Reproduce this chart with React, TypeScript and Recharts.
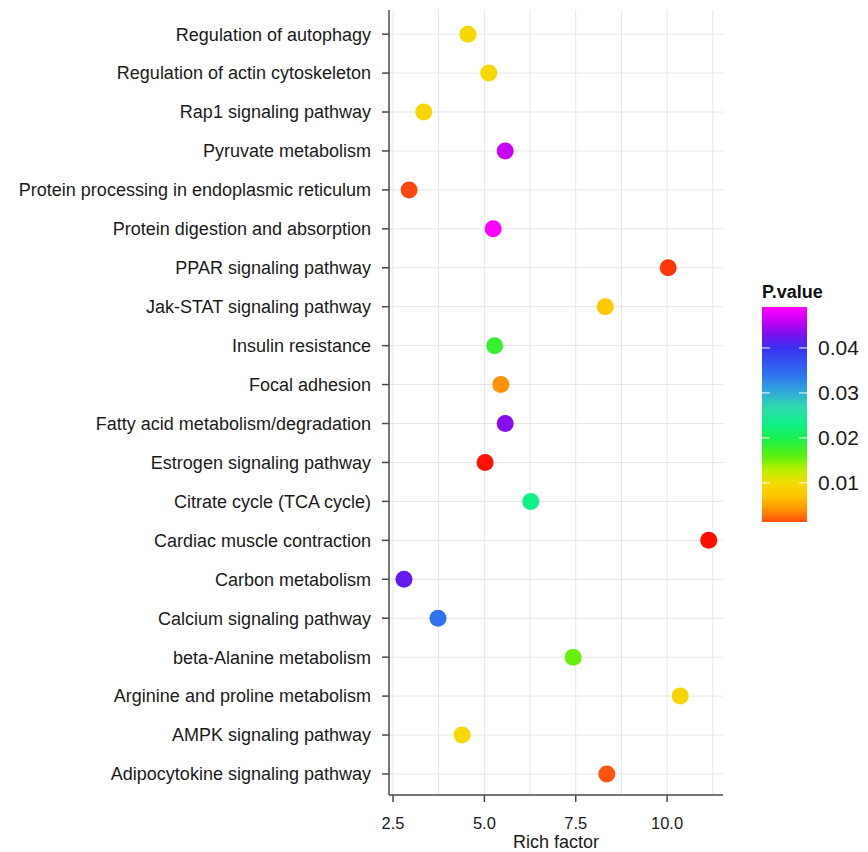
import React from "react";
import { ScatterChart, Scatter, XAxis, YAxis, CartesianGrid } from "recharts";

// Pathways listed from top to bottom as in the reference
const pathways = [
  "Regulation of autophagy",
  "Regulation of actin cytoskeleton",
  "Rap1 signaling pathway",
  "Pyruvate metabolism",
  "Protein processing in endoplasmic reticulum",
  "Protein digestion and absorption",
  "PPAR signaling pathway",
  "Jak-STAT signaling pathway",
  "Insulin resistance",
  "Focal adhesion",
  "Fatty acid metabolism/degradation",
  "Estrogen signaling pathway",
  "Citrate cycle (TCA cycle)",
  "Cardiac muscle contraction",
  "Carbon metabolism",
  "Calcium signaling pathway",
  "beta-Alanine metabolism",
  "Arginine and proline metabolism",
  "AMPK signaling pathway",
  "Adipocytokine signaling pathway",
];

const richFactor = [
  4.55, 5.12, 3.34, 5.57, 2.94, 5.24, 10.03, 8.31, 5.28, 5.45,
  5.57, 5.02, 6.27, 11.14, 2.8, 3.73, 7.43, 10.36, 4.39, 8.35,
];

const pValue = [
  0.0095, 0.0095, 0.0093, 0.046, 0.0012, 0.049, 0.0009, 0.0075, 0.018, 0.004,
  0.0435, 0.0003, 0.023, 0.0002, 0.042, 0.034, 0.0155, 0.009, 0.0095, 0.0015,
];

const xTicks = [2.5, 5.0, 7.5, 10.0];
const xGrid = [2.5, 3.75, 5.0, 6.25, 7.5, 8.75, 10.0, 11.25];
const legendTicks = [0.01, 0.02, 0.03, 0.04];
const legendMin = 0.0013;
const legendMax = 0.0491;

// colour gradient stops [p, colour]
const gradStops: [number, string][] = [
  [0.0, "#ff0000"],
  [0.0013, "#ff4e10"],
  [0.004, "#ff9200"],
  [0.007, "#ffc400"],
  [0.01, "#f2dc00"],
  [0.013, "#b8f000"],
  [0.016, "#58f010"],
  [0.02, "#18f050"],
  [0.023, "#10f088"],
  [0.027, "#30d8b0"],
  [0.03, "#30acd8"],
  [0.034, "#2f72f0"],
  [0.04, "#3a30f0"],
  [0.043, "#7a10f0"],
  [0.046, "#c800f4"],
  [0.0491, "#ff00ff"],
];

function hexToRgb(h: string) {
  const v = parseInt(h.slice(1), 16);
  return [(v >> 16) & 255, (v >> 8) & 255, v & 255];
}

function colorFor(p: number) {
  if (p <= gradStops[0][0]) return gradStops[0][1];
  for (let i = 1; i < gradStops.length; i++) {
    const [p1, c1] = gradStops[i];
    const [p0, c0] = gradStops[i - 1];
    if (p <= p1) {
      const t = (p - p0) / (p1 - p0);
      const a = hexToRgb(c0);
      const b = hexToRgb(c1);
      const m = a.map((v, k) => Math.round(v + (b[k] - v) * t));
      return `rgb(${m[0]},${m[1]},${m[2]})`;
    }
  }
  return gradStops[gradStops.length - 1][1];
}

const n = pathways.length;
const data = pathways.map((name, i) => ({
  name,
  x: richFactor[i],
  y: n - 1 - i,
  p: pValue[i],
}));

const yTicks = pathways.map((_, i) => i);

const FONT = "'Liberation Sans', Arial, Helvetica, sans-serif";
const AXIS = "#4a4a4a";

const Dot = (props: any) => {
  const { cx, cy, payload } = props;
  if (cx == null || cy == null) return null;
  return <circle cx={cx} cy={cy} r={8.5} fill={colorFor(payload.p)} />;
};

const ColorBar = () => {
  const barX = 762;
  const barW = 45;
  const barTop = 307;
  const barBottom = 522;
  const toY = (p: number) =>
    barBottom - ((p - legendMin) / (legendMax - legendMin)) * (barBottom - barTop);
  const stops = gradStops.filter((s) => s[0] >= legendMin);
  return (
    <svg
      width={868}
      height={852}
      style={{ position: "absolute", left: 0, top: 0, pointerEvents: "none" }}
    >
      <defs>
        <linearGradient id="pgrad" x1="0" y1="1" x2="0" y2="0">
          {stops.map(([p, c], i) => (
            <stop
              key={i}
              offset={`${((p - legendMin) / (legendMax - legendMin)) * 100}%`}
              stopColor={c}
            />
          ))}
        </linearGradient>
      </defs>
      <text x={barX} y={298} fontFamily={FONT} fontSize={18} fontWeight="bold" fill="#111">
        P.value
      </text>
      <rect x={barX} y={barTop} width={barW} height={barBottom - barTop} fill="url(#pgrad)" />
      {legendTicks.map((t) => (
        <g key={t}>
          <line x1={barX} x2={barX + 8} y1={toY(t)} y2={toY(t)} stroke="#ffffff" strokeWidth={1.2} opacity={0.8} />
          <line x1={barX + barW - 8} x2={barX + barW} y1={toY(t)} y2={toY(t)} stroke="#ffffff" strokeWidth={1.2} opacity={0.8} />
          <text
            x={818}
            y={toY(t)}
            dy="0.36em"
            fontFamily={FONT}
            fontSize={21}
            fill="#1a1a1a"
          >
            {t.toFixed(2)}
          </text>
        </g>
      ))}
    </svg>
  );
};

export default function App() {
  return (
    <div style={{ position: "absolute", left: 0, top: 0, width: 868, height: 852, background: "#fff" }}>
      <ScatterChart
        width={868}
        height={852}
        margin={{ top: 10, right: 145, bottom: 0, left: 9 }}
      >
        <CartesianGrid
          stroke="#e6e6e6"
          strokeWidth={1}
          verticalValues={xGrid}
          horizontalValues={yTicks}
        />
        <XAxis
          type="number"
          dataKey="x"
          domain={[2.39, 11.53]}
          allowDataOverflow
          ticks={xTicks}
          interval={0}
          tickFormatter={(v: number) => v.toFixed(1)}
          height={57}
          tickSize={7}
          tickMargin={15}
          stroke={AXIS}
          strokeWidth={1.5}
          tick={{ fill: "#1a1a1a", fontSize: 16.5, fontFamily: FONT }}
          label={{
            value: "Rich factor",
            position: "insideBottom",
            offset: 4,
            fill: "#1a1a1a",
            fontSize: 18,
            fontFamily: FONT,
          }}
        />
        <YAxis
          type="number"
          dataKey="y"
          domain={[-0.54, 19.62]}
          allowDataOverflow
          ticks={yTicks}
          interval={0}
          tickFormatter={(v: number) => pathways[n - 1 - v]}
          width={380}
          tickSize={7}
          tickMargin={11}
          stroke={AXIS}
          strokeWidth={1.5}
          tick={{ fill: "#1a1a1a", fontSize: 18, fontFamily: FONT }}
        />
        <Scatter data={data} shape={<Dot />} isAnimationActive={false} />
      </ScatterChart>
      <ColorBar />
    </div>
  );
}
